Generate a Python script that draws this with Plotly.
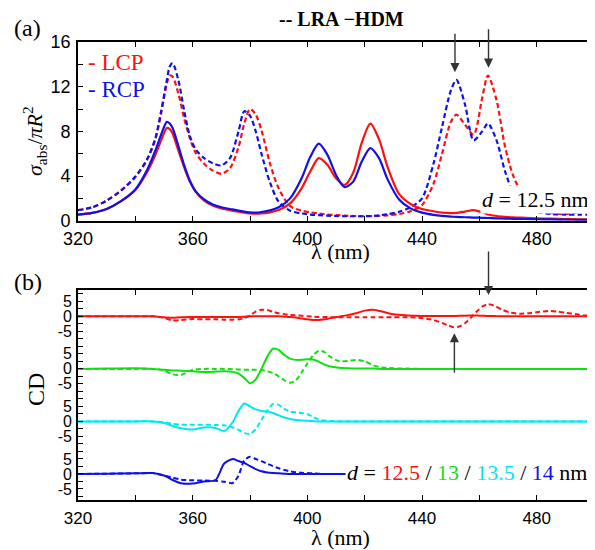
import plotly.graph_objects as go

# ---------------- Panel (a) data: absorption cross section ----------------
lam_a = [320, 325, 330, 335, 340, 344, 347, 349, 351, 352, 353, 355, 357, 359, 361, 364, 367, 370,
         373, 376, 378, 380, 382, 384, 387, 390, 394, 398, 401, 404, 407, 410, 413, 416, 419, 422,
         425, 428, 432, 436, 440, 444, 447, 450, 452, 455, 458, 461, 463, 466, 469, 472, 476, 480,
         485, 490, 495, 500]

lcp_hdm = [0.55, 0.7, 1.05, 1.75, 2.75, 4.3, 5.9, 7.2, 8.3, 8.2, 7.8, 6.3, 4.8, 3.5, 2.6, 1.8, 1.35, 1.1,
           0.95, 0.8, 0.72, 0.65, 0.63, 0.65, 0.75, 0.95, 1.55, 2.9, 4.4, 5.6, 5.0, 3.8, 3.2, 4.3, 7.0, 8.7,
           7.3, 4.8, 2.4, 1.5, 1.05, 0.85, 0.72, 0.68, 0.7, 0.82, 0.95, 0.75, 0.55, 0.42, 0.35, 0.3, 0.26, 0.22,
           0.18, 0.15, 0.13, 0.12]

rcp_hdm = [0.55, 0.7, 1.05, 1.75, 2.8, 4.5, 6.3, 7.7, 8.85, 8.7, 8.3, 6.7, 5.0, 3.6, 2.65, 1.9, 1.45, 1.2,
           1.05, 0.9, 0.82, 0.75, 0.73, 0.78, 0.92, 1.2, 2.0, 3.8, 5.7, 6.9, 5.9, 4.1, 3.0, 3.5, 5.3, 6.5,
           5.6, 3.7, 1.9, 1.1, 0.72, 0.52, 0.43, 0.37, 0.34, 0.31, 0.28, 0.26, 0.24, 0.21, 0.19, 0.17, 0.15, 0.13,
           0.11, 0.09, 0.08, 0.07]

lcp_lra = [0.95, 1.2, 1.8, 2.7, 3.9, 5.4, 7.3, 9.6, 12.3, 13.0, 12.9, 11.4, 9.2, 7.4, 6.1, 5.1, 4.5, 4.2,
           4.7, 6.6, 8.7, 10.0, 9.5, 8.1, 5.1, 2.9, 1.3, 0.9, 0.75, 0.65, 0.55, 0.5, 0.45, 0.42, 0.4, 0.4,
           0.42, 0.48, 0.6, 0.85, 1.4, 3.3, 6.0, 8.8, 9.5, 8.6, 7.7, 11.0, 13.0, 10.8, 6.6, 3.9, 2.0, 1.1,
           0.7, 0.6, 0.8, 1.3]

rcp_lra = [0.95, 1.2, 1.8, 2.7, 3.95, 5.45, 7.4, 9.8, 12.6, 13.8, 14.1, 12.6, 9.9, 7.6, 6.4, 5.6, 5.15, 4.95,
           5.6, 8.0, 9.8, 9.4, 8.0, 6.0, 3.4, 1.7, 0.9, 0.65, 0.55, 0.5, 0.45, 0.42, 0.4, 0.4, 0.4, 0.42,
           0.48, 0.58, 0.8, 1.2, 2.0, 5.1, 8.4, 11.6, 12.6, 10.4, 7.2, 8.0, 8.7, 7.2, 4.4, 2.4, 1.3, 0.8,
           0.6, 0.55, 0.55, 0.55]

# ---------------- Panel (b) data: circular dichroism ----------------
lam_b = [320, 330, 340, 346, 350, 353, 356, 360, 364, 368, 371, 374, 376, 378, 380, 382, 384, 386,
         388, 390, 392, 394, 396, 398, 400, 402, 404, 406, 408, 411, 414, 417, 420, 423, 426, 430,
         435, 440, 444, 447, 449, 451, 453, 455, 457, 459, 461, 463, 465, 468, 471, 474, 478, 481,
         484, 487, 490, 494, 497, 500]

cd_125_hdm = [0, 0, 0, 0, -0.3, -0.5, -0.3, -0.2, -0.2, -0.2, -0.2, -0.2, -0.2, -0.1, 0, 0, 0, 0,
              0, 0, -0.1, -0.2, -0.4, -0.7, -1.0, -1.2, -1.2, -1.0, -0.6, -0.1, 0.4, 1.0, 1.9, 2.2, 1.6, 0.7,
              0.3, 0.1, 0.1, 0.1, 0.1, 0.1, 0.2, 0.2, 0.3, 0.3, 0.2, 0.1, 0.1, 0, 0, 0, 0, 0,
              0, 0, 0, 0, 0, 0]
cd_125_lra = [0, 0, 0, 0, -0.5, -1.4, -1.2, -0.9, -1.0, -1.0, -1.1, -1.1, -1.0, -0.6, 0.3, 1.6, 2.2, 2.1,
              1.5, 1.0, 0.7, 0.5, 0.3, 0.2, 0, -0.1, -0.2, -0.2, -0.3, -0.3, -0.3, -0.3, -0.3, -0.3, -0.3, -0.3,
              -0.3, -0.6, -1.2, -2.2, -3.0, -3.6, -3.4, -2.3, -0.5, 1.5, 3.2, 4.0, 3.6, 2.2, 1.2, 0.9, 1.1, 1.5,
              1.8, 1.6, 1.2, 0.7, 0.3, 0.2]
cd_13_hdm = [0, 0.1, 0.2, 0, -0.3, -0.5, -0.6, -0.8, -1.0, -0.9, -0.8, -1.0, -1.6, -3.0, -4.8, -3.5, 0, 4.0,
             6.7, 6.3, 4.6, 3.4, 3.0, 3.0, 3.2, 3.1, 2.4, 1.4, 0.8, 0.4, 0.2, 0.1, 0.1, 0.1, 0, 0,
             0, 0, 0, 0, 0, 0, 0, 0, 0, 0, 0, 0, 0, 0, 0, 0, 0, 0,
             0, 0, 0, 0, 0, 0]
cd_13_lra = [0, 0, 0, 0, -0.5, -1.8, -2.0, -0.3, 0, 0, 0, -0.1, -0.2, -0.3, -0.3, -0.3, -0.4, -0.8,
             -1.4, -2.5, -3.8, -4.6, -3.8, -1.2, 1.8, 4.5, 6.0, 5.6, 4.0, 2.6, 2.6, 3.0, 2.5, 1.2, 0.5, 0.2,
             0.1, 0, 0, 0, 0, 0, 0, 0, 0, 0, 0, 0, 0, 0, 0, 0, 0, 0,
             0, 0, 0, 0, 0, 0]
cd_135_hdm = [0, 0, 0, 0, -0.5, -1.5, -2.3, -2.7, -2.0, -2.2, -3.2, -0.2, 3.5, 6.0, 5.0, 4.0, 3.5, 3.3,
              2.8, 2.0, 1.3, 0.8, 0.5, 0.3, 0.2, 0.1, 0, 0, 0, 0, 0, 0, 0, 0, 0, 0,
              0, 0, 0, 0, 0, 0, 0, 0, 0, 0, 0, 0, 0, 0, 0, 0, 0, 0,
              0, 0, 0, 0, 0, 0]
cd_135_lra = [0, 0, 0, 0, -0.3, -0.8, -1.1, -1.1, -1.1, -1.2, -1.3, -2.0, -2.8, -3.8, -4.2, -2.5, 0.5, 3.5,
              5.8, 5.5, 4.2, 3.3, 3.0, 2.8, 2.4, 1.5, 0.6, 0.3, 0.1, 0, 0, 0, 0, 0, 0, 0,
              0, 0, 0, 0, 0, 0, 0, 0, 0, 0, 0, 0, 0, 0, 0, 0, 0, 0,
              0, 0, 0, 0, 0, 0]
cd_14_hdm = [0, 0.1, 0.2, 0.3, -0.5, -2.0, -3.1, -3.2, -2.5, -2.0, 3.5, 5.0, 4.3, 3.7, 2.6, 1.6, 0.9, 0.5,
             0.3, 0.2, 0.1, 0, 0, 0, 0, 0, 0, 0, 0, 0, 0, 0, 0, 0, 0, 0,
             0, 0, 0, 0, 0, 0, 0, 0, 0, 0, 0, 0, 0, 0, 0, 0, 0, 0,
             0, 0, 0, 0, 0, 0]
cd_14_lra = [0, 0.1, 0.2, 0.3, -0.5, -1.2, -1.9, -2.1, -2.2, -2.3, -2.6, -3.0, -0.5, 4.5, 5.7, 5.0, 4.3, 3.4,
             2.6, 1.9, 1.3, 0.9, 0.6, 0.4, 0.3, 0.2, 0.1, 0, 0, 0, 0, 0, 0, 0, 0, 0,
             0, 0, 0, 0, 0, 0, 0, 0, 0, 0, 0, 0, 0, 0, 0, 0, 0, 0,
             0, 0, 0, 0, 0, 0]

cd_sizes = ["12.5", "13", "13.5", "14"]
cd_offsets = [52.5, 35.0, 17.5, 0.0]
cd_colors = ["#ff1010", "#10e010", "#00e8f0", "#1010e8"]
cd_hdm = [cd_125_hdm, cd_13_hdm, cd_135_hdm, cd_14_hdm]
cd_lra = [cd_125_lra, cd_13_lra, cd_135_lra, cd_14_lra]

# tick labels
x_ticks = [320, 340, 360, 380, 400, 420, 440, 460, 480, 500]
x_ticklabels = ["320", "", "360", "", "400", "", "440", "", "480", ""]
a_yticks = [0, 2, 4, 6, 8, 10, 12, 14, 16]
a_yticklabels = ["0", "", "4", "", "8", "", "12", "", "16"]
cd_group_ticks = [-5, 0, 5]
cd_group_labels = ["-5", "0", "5"]

RED = "#ff1010"
BLUE = "#1010e8"
SERIF = "Liberation Serif"
SANS = "Liberation Sans"
DASH = "5px,3px"

fig = go.Figure()

# panel (a)
for ys, col, dash in [(lcp_lra, RED, DASH), (rcp_lra, BLUE, DASH),
                      (lcp_hdm, RED, "solid"), (rcp_hdm, BLUE, "solid")]:
    fig.add_trace(go.Scatter(x=lam_a, y=ys, mode="lines", xaxis="x", yaxis="y",
                             line=dict(color=col, width=2.2, dash=dash, shape="spline", smoothing=0.8),
                             hoverinfo="skip"))

# panel (b)
for hdm, lra, off, col in zip(cd_hdm, cd_lra, cd_offsets, cd_colors):
    fig.add_trace(go.Scatter(x=lam_b, y=[v + off for v in lra], mode="lines", xaxis="x2", yaxis="y2",
                             line=dict(color=col, width=2, dash=DASH, shape="spline", smoothing=0.7),
                             hoverinfo="skip"))
    fig.add_trace(go.Scatter(x=lam_b, y=[v + off for v in hdm], mode="lines", xaxis="x2", yaxis="y2",
                             line=dict(color=col, width=2, shape="spline", smoothing=0.7),
                             hoverinfo="skip"))

# CD ticks
b_tickvals, b_ticktext = [], []
grid = [-7.5 + 2.5 * i for i in range(28)]
for g in grid:
    lab = ""
    for off in cd_offsets:
        for t, tl in zip(cd_group_ticks, cd_group_labels):
            if abs(g - (off + t)) < 1e-6:
                lab = tl
    b_tickvals.append(g)
    b_ticktext.append(lab)

W, H = 595, 550
OFF = 8  # page body margin: positions below are given in window pixels


def fx(x):
    return (x - OFF) / W


def fy(y):
    return 1 - (y - OFF) / H


xdom = [fx(78), fx(594)]


def axis_common(size):
    return dict(showline=True, linecolor="black", linewidth=1.6, mirror="allticks",
                ticks="inside", ticklen=5, tickwidth=1.2, tickcolor="black", automargin=False,
                showgrid=False, zeroline=False, tickfont=dict(family=SANS, size=size, color="black"))


fig.update_layout(
    width=W, height=H, margin=dict(l=0, r=0, t=0, b=0, pad=0, autoexpand=False),
    paper_bgcolor="white", plot_bgcolor="white", showlegend=False,
    xaxis=dict(domain=xdom, anchor="y", range=[320, 500], tickmode="array", tickvals=x_ticks,
               ticktext=x_ticklabels, ticklabelstandoff=1, **axis_common(18)),
    yaxis=dict(domain=[fy(220.7), fy(42)], anchor="x", range=[0, 16], tickmode="array",
               tickvals=a_yticks, ticktext=a_yticklabels, ticklabelstandoff=2, **axis_common(18)),
    xaxis2=dict(domain=xdom, anchor="y2", range=[320, 500], tickmode="array", tickvals=x_ticks,
                ticktext=x_ticklabels, ticklabelstandoff=2, **axis_common(17)),
    yaxis2=dict(domain=[fy(500), fy(290)], anchor="x2", range=[-8.67, 61.27], tickmode="array",
                tickvals=b_tickvals, ticktext=b_ticktext, ticklabelstandoff=1, **axis_common(16)),
)


def px_ann(x, y, text, size, color="black", family=SERIF, xanchor="center", angle=0, bg=None):
    d = dict(x=fx(x), y=fy(y), xref="paper", yref="paper", text=text, showarrow=False,
             xanchor=xanchor, yanchor="middle", textangle=angle,
             font=dict(family=family, size=size, color=color))
    if bg:
        d.update(bgcolor=bg, borderpad=1)
    return d


anns = [
    px_ann(12, 28, "(a)", 24, xanchor="left"),
    px_ann(12, 282, "(b)", 24, xanchor="left"),
    px_ann(341, 19, "<b>-- LRA \u2212HDM</b>", 20),
    px_ann(86, 63, "- LCP", 23, color=RED, xanchor="left"),
    px_ann(86, 90, "- RCP", 23, color=BLUE, xanchor="left"),
    px_ann(480, 199, "<i>d</i> = 12.5 nm", 22, xanchor="left", bg="white"),
    px_ann(340, 251, "\u03bb (nm)", 22),
    px_ann(340, 537, "\u03bb (nm)", 22),
    px_ann(36, 390, "CD", 24, angle=-90),
    px_ann(34, 141, "<i>\u03c3</i><sub>abs</sub>/<i>\u03c0R</i><sup>2</sup>", 22, angle=-90),
]
seg = " / ".join("<span style='color:%s'>%s</span>" % (c, s) for c, s in zip(cd_colors, cd_sizes))
anns.append(px_ann(345, 472, "<i>d</i> = " + seg + " nm", 22, xanchor="left", bg="white"))

# arrows
arrow_style = dict(showarrow=True, text="", arrowhead=2, arrowsize=1.3, arrowwidth=1.4,
                   arrowcolor="#333333", standoff=0, startstandoff=0)
anns += [
    dict(x=451.5, y=13.3, xref="x", yref="y", ax=0, ay=-40, **arrow_style),
    dict(x=463.2, y=13.7, xref="x", yref="y", ax=0, ay=-40, **arrow_style),
    dict(x=463.2, y=59.6, xref="x2", yref="y2", ax=0, ay=-45, **arrow_style),
    dict(x=451.3, y=46.9, xref="x2", yref="y2", ax=0, ay=41, **arrow_style),
]
fig.update_layout(annotations=anns)

fig.write_html("out.html")
